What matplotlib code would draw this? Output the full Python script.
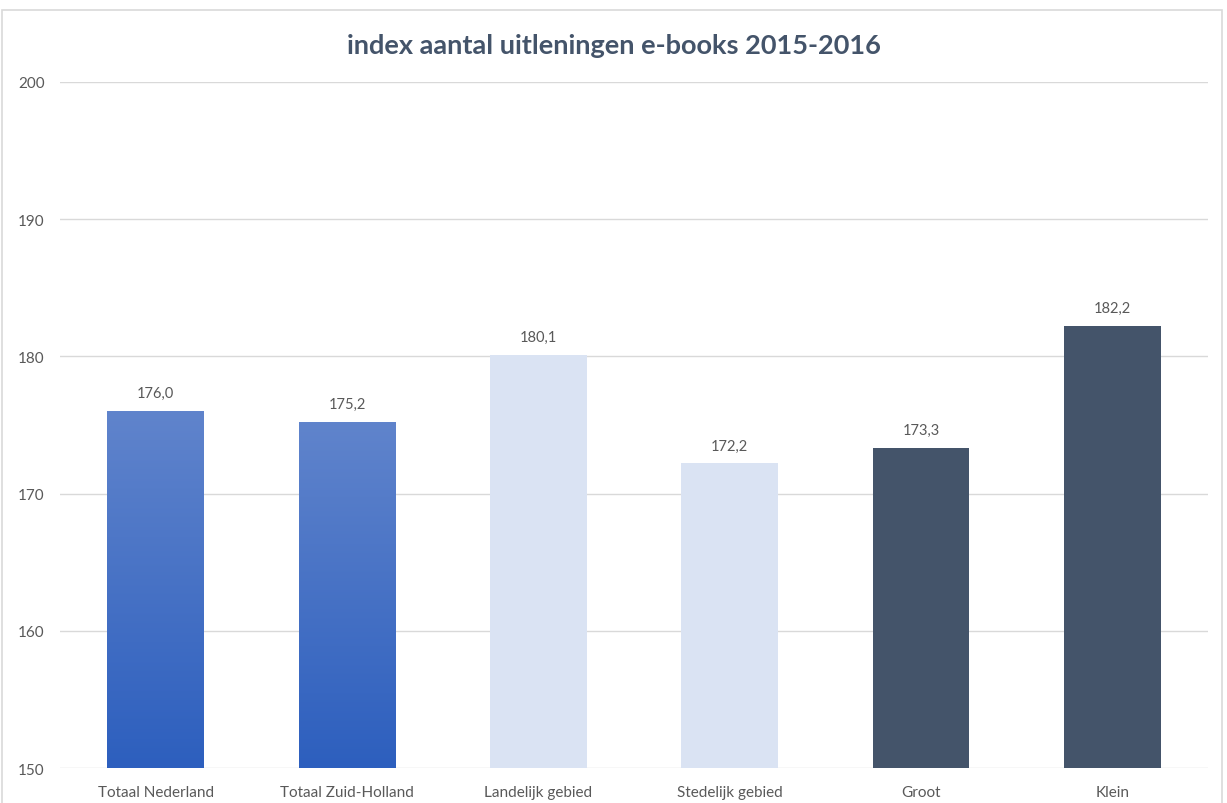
import matplotlib.pyplot as plt
import numpy as np
from matplotlib.colors import LinearSegmentedColormap
from matplotlib.patches import Rectangle

categories = ["Totaal Nederland", "Totaal Zuid-Holland", "Landelijk gebied",
              "Stedelijk gebied", "Groot", "Klein"]
values = [176.0, 175.2, 180.1, 172.2, 173.3, 182.2]
colors = ["#4472C4", "#4472C4", "#DAE3F3", "#DAE3F3", "#44546A", "#44546A"]
gradient = [True, True, False, False, False, False]
yticks = [150, 160, 170, 180, 190, 200]

plt.rcParams['font.family'] = ['Lato', 'DejaVu Sans']

fig = plt.figure(figsize=(12.27, 8.04), dpi=100)
ax = fig.add_axes([0.0489, 0.0435, 0.9356, 0.8533])

x = np.arange(len(categories))
bars = ax.bar(x, [v - 150 for v in values], bottom=150, width=0.505,
              color=colors, zorder=2)

# verloop voor de eerste twee staven
cmap = LinearSegmentedColormap.from_list("blu", ["#2D5FBE", "#6084CC"])
grad = np.linspace(0, 1, 256).reshape(-1, 1)
for b, g in zip(bars, gradient):
    if g:
        b.set_facecolor("none")
        x0, w = b.get_x(), b.get_width()
        y0, h = b.get_y(), b.get_height()
        im = ax.imshow(grad, cmap=cmap, aspect="auto", origin="lower",
                       extent=(x0, x0 + w, 150, y0 + h), zorder=2)
        im.set_clip_path(b)

for xi, v in zip(x, values):
    ax.text(xi, v + 0.8, f"{v:.1f}".replace(".", ","), ha="center", va="bottom",
            fontsize=10.5, color="#595959")

ax.set_xlim(-0.5, len(categories) - 0.5)
ax.set_ylim(150, 200)
ax.set_yticks(yticks)
ax.set_xticks(x)
ax.set_xticklabels(categories)
ax.tick_params(length=0, labelsize=11, labelcolor="#595959")
ax.tick_params(axis="x", pad=12)
ax.tick_params(axis="y", pad=11)
ax.yaxis.grid(True, color="#D9D9D9", linewidth=1, zorder=0)
ax.set_axisbelow(True)
for s in ax.spines.values():
    s.set_visible(False)

fig.text(0.5, 0.943, "index aantal uitleningen e-books 2015-2016", ha="center",
         va="center", fontsize=19.5, fontweight="bold", color="#44546A")

fig.patches.append(Rectangle((0.002, -0.01), 0.994, 0.996, transform=fig.transFigure,
                             fill=False, edgecolor="#D9D9D9", linewidth=1.2))

fig.savefig("out.png", dpi=100)
